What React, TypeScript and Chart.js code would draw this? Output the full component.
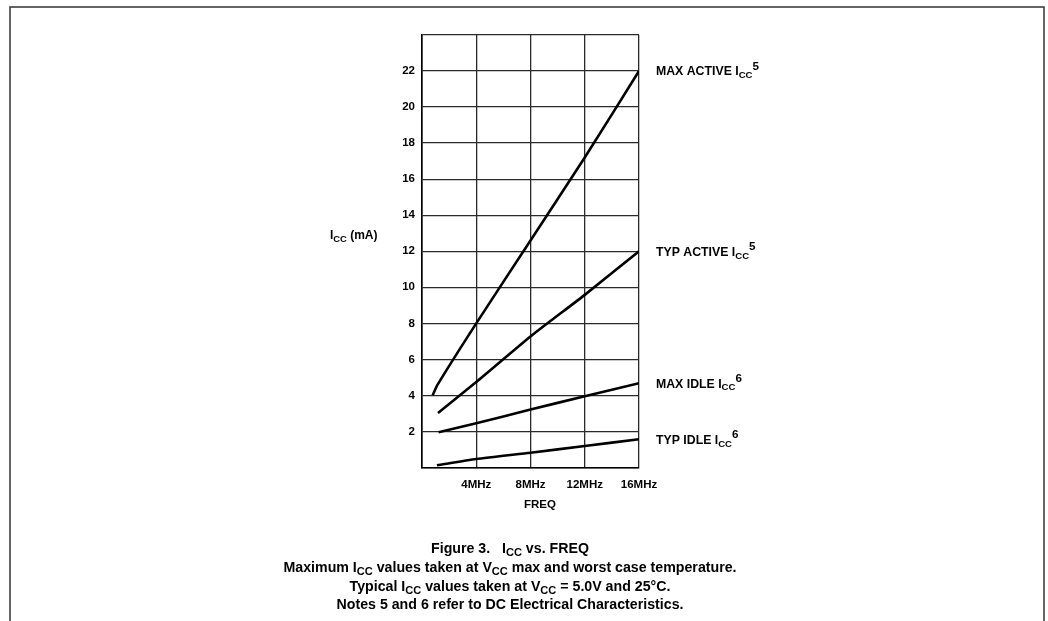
import React, { useEffect, useRef } from "react";
import { Chart, registerables } from "chart.js";

Chart.register(...registerables);

// ---- data ----
const seriesNames = ["MAX ACTIVE I", "TYP ACTIVE I", "MAX IDLE I", "TYP IDLE I"];
const seriesNotes = ["5", "5", "6", "6"];

const maxActiveFreq = [0.78, 1.15, 4, 8, 12, 16];
const maxActiveIcc = [4.0, 4.6, 8.0, 12.6, 17.2, 22.0];

const typActiveFreq = [1.18, 4, 8, 12, 16];
const typActiveIcc = [3.02, 4.74, 7.27, 9.58, 12.0];

const maxIdleFreq = [1.22, 4, 8, 12, 16];
const maxIdleIcc = [1.96, 2.45, 3.22, 3.95, 4.68];

const typIdleFreq = [1.1, 4, 8, 12, 16];
const typIdleIcc = [0.12, 0.47, 0.82, 1.19, 1.57];

const xTickLabels = ["", "4MHz", "8MHz", "12MHz", "16MHz"];
const yTickValues = [2, 4, 6, 8, 10, 12, 14, 16, 18, 20, 22];

const FONT = '"Liberation Sans", Arial, Helvetica, sans-serif';

type Seg = { t: string; k?: "sub" | "sup" };

function drawRich(
  ctx: CanvasRenderingContext2D,
  segs: Seg[],
  x: number,
  y: number,
  size: number,
  align: "left" | "center" | "right"
) {
  const fontFor = (s: Seg) =>
    `bold ${s.k === "sub" ? size * 0.78 : s.k === "sup" ? size * 0.95 : size}px ${FONT}`;
  let total = 0;
  const widths = segs.map((s) => {
    ctx.font = fontFor(s);
    const w = ctx.measureText(s.t).width;
    total += w;
    return w;
  });
  let cx = align === "left" ? x : align === "center" ? x - total / 2 : x - total;
  ctx.textBaseline = "middle";
  ctx.textAlign = "left";
  segs.forEach((s, i) => {
    ctx.font = fontFor(s);
    const dy = s.k === "sub" ? size * 0.3 : s.k === "sup" ? -size * 0.42 : 0;
    ctx.fillText(s.t, cx, y + dy);
    cx += widths[i];
  });
}

const captionLines: Seg[][] = [
  [{ t: "Figure 3.   I" }, { t: "CC", k: "sub" }, { t: " vs. FREQ" }],
  [
    { t: "Maximum I" },
    { t: "CC", k: "sub" },
    { t: " values taken at V" },
    { t: "CC", k: "sub" },
    { t: " max and worst case temperature." },
  ],
  [
    { t: "Typical I" },
    { t: "CC", k: "sub" },
    { t: " values taken at V" },
    { t: "CC", k: "sub" },
    { t: " = 5.0V and 25°C." },
  ],
  [{ t: "Notes 5 and 6 refer to DC Electrical Characteristics." }],
];

const decorPlugin = {
  id: "decor",
  afterDraw(chart: any) {
    const ctx: CanvasRenderingContext2D = chart.ctx;
    const area = chart.chartArea;
    const yScale = chart.scales.y;
    ctx.save();
    ctx.fillStyle = "#000";
    // outer frame (open at bottom)
    ctx.strokeStyle = "#333";
    ctx.lineWidth = 1.5;
    ctx.beginPath();
    ctx.moveTo(10, 621);
    ctx.lineTo(10, 7);
    ctx.lineTo(1044, 7);
    ctx.lineTo(1044, 621);
    ctx.stroke();

    // y axis title
    drawRich(ctx, [{ t: "I" }, { t: "CC", k: "sub" }, { t: " (mA)" }], 330, 236, 12, "left");

    // x axis title
    drawRich(ctx, [{ t: "FREQ" }], 540, 505, 11.5, "center");

    // series labels
    chart.data.datasets.forEach((ds: any, i: number) => {
      const last = ds.data[ds.data.length - 1];
      const py = yScale.getPixelForValue(last.y);
      drawRich(
        ctx,
        [{ t: seriesNames[i] }, { t: "CC", k: "sub" }, { t: seriesNotes[i], k: "sup" }],
        area.right + 17,
        py + 1,
        12.3,
        "left"
      );
    });

    // caption
    const cy = [549, 568, 587, 605];
    captionLines.forEach((line, i) => drawRich(ctx, line, 510, cy[i], 14.2, "center"));
    ctx.restore();
  },
};

function mk(xs: number[], ys: number[]) {
  return xs.map((x, i) => ({ x, y: ys[i] }));
}

export default function App() {
  const ref = useRef<HTMLCanvasElement>(null);
  useEffect(() => {
    if (!ref.current) return;
    const line = (data: any[]) => ({
      data,
      borderColor: "#000",
      borderWidth: 2.6,
      pointRadius: 0,
      fill: false,
      tension: 0.2,
    });
    const chart = new Chart(ref.current, {
      type: "line",
      data: {
        datasets: [
          line(mk(maxActiveFreq, maxActiveIcc)),
          line(mk(typActiveFreq, typActiveIcc)),
          line(mk(maxIdleFreq, maxIdleIcc)),
          line(mk(typIdleFreq, typIdleIcc)),
        ],
      },
      options: {
        animation: false,
        responsive: false,
        devicePixelRatio: 1,
        layout: { padding: { left: 372, right: 409, top: 35, bottom: 113.5 } },
        plugins: { legend: { display: false }, tooltip: { enabled: false } },
        scales: {
          x: {
            type: "linear",
            min: 0,
            max: 16,
            afterFit: (s: any) => {
              s.height = 40;
            },
            ticks: {
              stepSize: 4,
              color: "#000",
              padding: 10,
              maxRotation: 0,
              font: { family: FONT, size: 11.5, weight: "bold" },
              callback: (v: any) => xTickLabels[Math.round(Number(v) / 4)] ?? "",
            },
            grid: { color: "#2a2a2a", lineWidth: 1.3, drawTicks: false },
            border: { color: "#000", width: 1.6 },
          },
          y: {
            type: "linear",
            min: 0,
            max: 24,
            afterFit: (s: any) => {
              s.width = 50;
            },
            ticks: {
              stepSize: 2,
              color: "#000",
              padding: 7,
              font: { family: FONT, size: 11.5, weight: "bold" },
              callback: (v: any) => (yTickValues.includes(Number(v)) ? String(v) : ""),
            },
            grid: { color: "#2a2a2a", lineWidth: 1.3, drawTicks: false },
            border: { color: "#000", width: 1.6 },
          },
        },
      },
      plugins: [decorPlugin],
    });
    return () => chart.destroy();
  }, []);
  return (
    <div style={{ position: "absolute", left: 0, top: 0, width: 1048, height: 621, background: "#fff" }}>
      <canvas ref={ref} width={1048} height={621} />
    </div>
  );
}
